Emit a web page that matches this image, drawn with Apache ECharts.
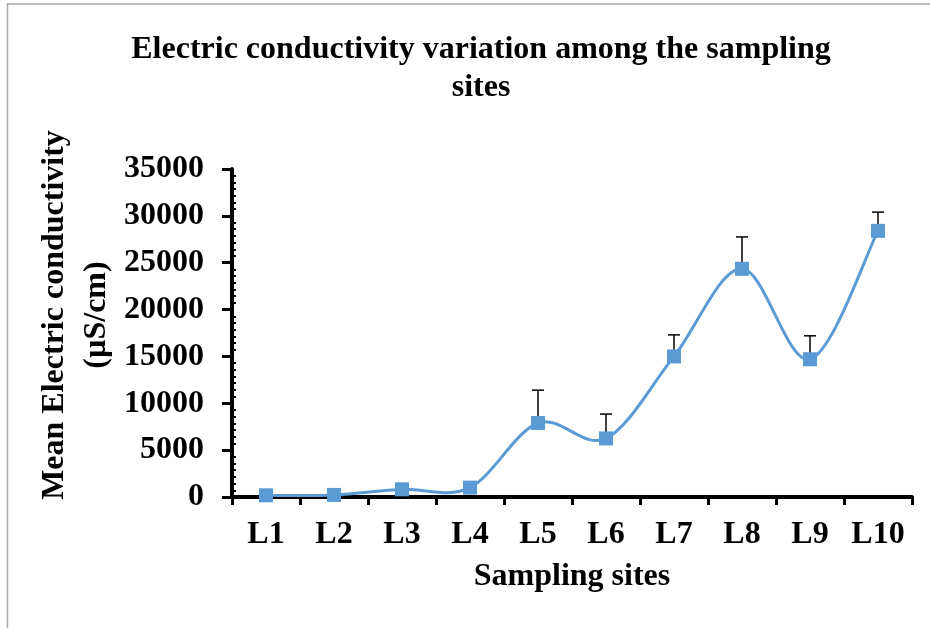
<!DOCTYPE html>
<html>
<head>
<meta charset="utf-8">
<script src="https://cdn.jsdelivr.net/npm/echarts@6/dist/echarts.min.js"></script>
<style>html,body{margin:0;padding:0;background:#fff}#c{width:930px;height:628px}</style>
</head>
<body>
<div id="c"></div>
<script>
const categories = ['L1','L2','L3','L4','L5','L6','L7','L8','L9','L10'];
const meanEC = [180, 220, 820, 1000, 7900, 6250, 15000, 24350, 14700, 28400];
const errEC = [60, 80, 150, 250, 3500, 2600, 2300, 3400, 2500, 2000];
const yTicks = [0, 5000, 10000, 15000, 20000, 25000, 30000, 35000];

const FONT = '"Liberation Serif", "Times New Roman", serif';
const FS = 32;
const chart = echarts.init(document.getElementById('c'));
const errData = meanEC.map((v, i) => [i, v, errEC[i]]);

// Smooth curve (Excel-like Catmull-Rom Bezier) through points mapped by the axes
function curveItem(params, api) {
  if (params.dataIndex !== 0) return null;
  const pts = meanEC.map((v, i) => api.coord([i, v]));
  const n = pts.length;
  let d = 'M' + pts[0][0] + ' ' + pts[0][1];
  for (let i = 0; i < n - 1; i++) {
    const p0 = pts[Math.max(i - 1, 0)], p1 = pts[i], p2 = pts[i + 1], p3 = pts[Math.min(i + 2, n - 1)];
    const c1x = p1[0] + (p2[0] - p0[0]) / 6, c1y = p1[1] + (p2[1] - p0[1]) / 6;
    const c2x = p2[0] - (p3[0] - p1[0]) / 6, c2y = p2[1] - (p3[1] - p1[1]) / 6;
    d += ' C' + c1x + ' ' + c1y + ' ' + c2x + ' ' + c2y + ' ' + p2[0] + ' ' + p2[1];
  }
  return {type: 'path', shape: {pathData: d}, style: {fill: 'none', stroke: '#5B9BD5', lineWidth: 3}};
}

chart.setOption({
  animation: false,
  backgroundColor: '#fff',
  title: {
    text: 'Electric conductivity variation among the sampling\nsites',
    left: 476, top: 26, textAlign: 'center',
    textStyle: {fontFamily: FONT, fontWeight: 'bold', fontSize: FS, lineHeight: 38, color: '#000'}
  },
  graphic: [
    {type: 'rect', shape: {x: 7.5, y: 4, width: 1000, height: 700}, style: {fill: 'none', stroke: '#a6a6a6', lineWidth: 1.5}, silent: true},
    {type: 'text', x: 76, y: 315, rotation: Math.PI / 2,
     style: {text: 'Mean Electric conductivity\n(µS/cm)', align: 'center', verticalAlign: 'middle',
             font: 'bold ' + FS + 'px ' + FONT, lineHeight: 42, fill: '#000'}}
  ],
  grid: {left: 232, right: 18, top: 169, bottom: 131},
  xAxis: {
    type: 'category', data: categories, boundaryGap: true,
    axisLine: {lineStyle: {color: '#000', width: 4}},
    axisTick: {show: true, interval: 0, length: 8, lineStyle: {color: '#000', width: 3}},
    axisLabel: {interval: 0, hideOverlap: false, fontFamily: FONT, fontWeight: 'bold', fontSize: FS, color: '#000', margin: 22},
    name: 'Sampling sites', nameLocation: 'middle', nameGap: 64,
    nameTextStyle: {fontFamily: FONT, fontWeight: 'bold', fontSize: FS, color: '#000'}
  },
  yAxis: [{
    type: 'value', min: 0, max: 35000, interval: 5000,
    axisLine: {show: true, lineStyle: {color: '#000', width: 4}},
    axisTick: {show: true, length: 10, lineStyle: {color: '#000', width: 3}},
    splitLine: {show: false},
    axisLabel: {fontFamily: FONT, fontWeight: 'bold', fontSize: FS, color: '#000', margin: 28,
      formatter: v => yTicks.includes(v) ? String(v) : ''}
  }, {
    type: 'value', min: 0, max: 35000, interval: 5000, position: 'left',
    axisLine: {show: false},
    axisTick: {show: false, inside: true},
    minorTick: {show: true, splitNumber: 7, length: 4, lineStyle: {color: '#000', width: 2}},
    splitLine: {show: false}, axisLabel: {show: false}
  }],
  series: [{
    type: 'custom', z: 1,
    data: errData,
    renderItem: function (params, api) {
      const i = api.value(0), v = api.value(1), e = api.value(2);
      const base = api.coord([i, v]);
      const top = api.coord([i, v + e]);
      const st = {stroke: '#000', lineWidth: 1.5};
      return {type: 'group', children: [
        {type: 'line', shape: {x1: base[0], y1: base[1], x2: top[0], y2: top[1]}, style: st},
        {type: 'line', shape: {x1: top[0] - 6, y1: top[1], x2: top[0] + 6, y2: top[1]}, style: st}
      ]};
    }
  }, {
    type: 'custom', z: 2,
    data: errData,
    renderItem: curveItem
  }, {
    type: 'line', z: 3, data: meanEC,
    symbol: 'rect', symbolSize: 14,
    lineStyle: {width: 0, opacity: 0},
    itemStyle: {color: '#5B9BD5'}
  }]
});
</script>
</body>
</html>
